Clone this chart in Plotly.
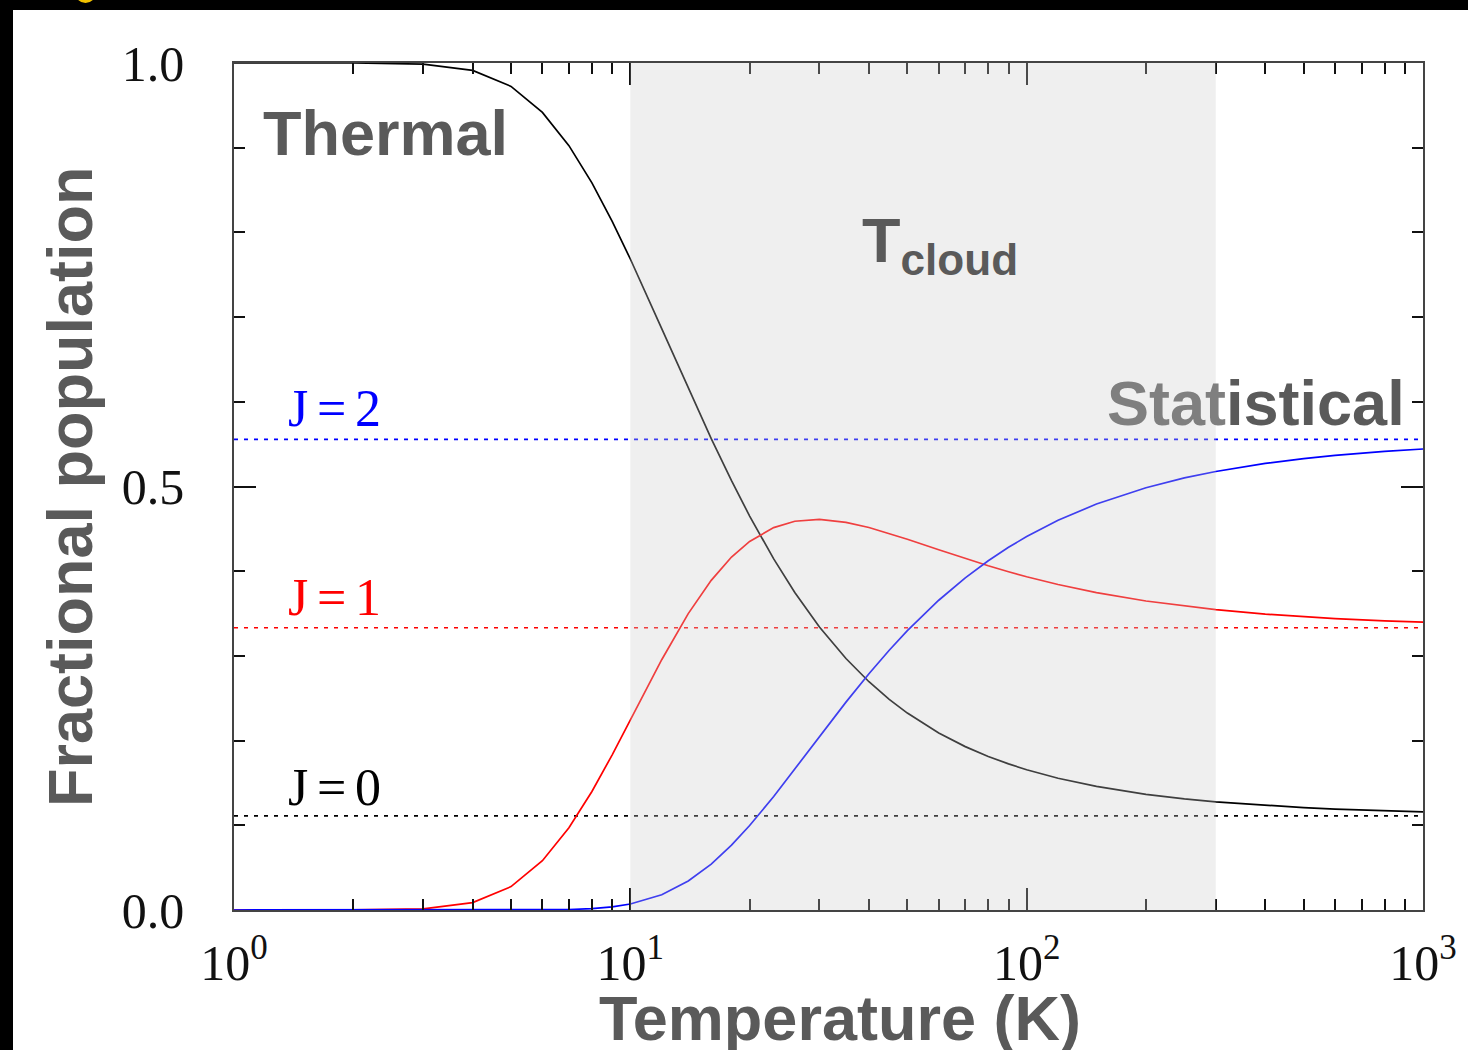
import plotly.graph_objects as go

# ---------------- data ----------------
T = [1, 2, 3, 4, 5, 6, 7, 8, 9, 10, 12, 14, 16, 18, 20, 23, 26, 30, 35, 40, 45, 50,
     60, 70, 80, 90, 100, 120, 150, 200, 250, 300, 400, 500, 600, 800, 1000]
J0 = [1.0, 1.0, 0.9987, 0.9912, 0.9724, 0.9417, 0.9024, 0.8585, 0.8131, 0.7686,
      0.6865, 0.6159, 0.5565, 0.5068, 0.4651, 0.4145, 0.3749, 0.3342, 0.2969, 0.2695,
      0.2487, 0.2325, 0.2090, 0.1929, 0.1813, 0.1725, 0.1656, 0.1556, 0.1459, 0.1366,
      0.1312, 0.1277, 0.1234, 0.1209, 0.1192, 0.1172, 0.1159]
J1 = [0.0, 0.00003, 0.0013, 0.0088, 0.0276, 0.0582, 0.0971, 0.1399, 0.1832, 0.2244,
      0.2955, 0.3499, 0.3892, 0.4167, 0.4352, 0.4515, 0.4590, 0.4611, 0.4577, 0.4516,
      0.4446, 0.4377, 0.4253, 0.4149, 0.4064, 0.3994, 0.3935, 0.3843, 0.3747, 0.3648,
      0.3587, 0.3546, 0.3493, 0.3462, 0.3441, 0.3414, 0.3398]
J2 = [0.0, 0.0, 0.0, 0.0, 0.00002, 0.00013, 0.00056, 0.0016, 0.0037, 0.0071,
      0.0180, 0.0342, 0.0542, 0.0765, 0.0997, 0.1340, 0.1662, 0.2046, 0.2454, 0.2789,
      0.3067, 0.3298, 0.3657, 0.3922, 0.4124, 0.4282, 0.4409, 0.4601, 0.4793, 0.4985,
      0.5101, 0.5177, 0.5272, 0.5329, 0.5367, 0.5414, 0.5443]
STAT = [0.1111, 0.3333, 0.5556]          # statistical limits J=0,1,2
STAT_LABELS = ["J=0", "J=1", "J=2"]
T_CLOUD = [10, 300]
X_RANGE = [1, 1000]
X_TICKS = [1, 10, 100, 1000]
X_TICKTEXT = ["10<sup>0</sup>", "10<sup>1</sup>", "10<sup>2</sup>", "10<sup>3</sup>"]
X_MINOR = [2, 3, 4, 5, 6, 7, 8, 9, 20, 30, 40, 50, 60, 70, 80, 90,
           200, 300, 400, 500, 600, 700, 800, 900]
Y_TICKS = [0.0, 0.5, 1.0]
Y_TICKTEXT = ["0.0", "0.5", "1.0"]
Y_MINOR = [0.1, 0.2, 0.3, 0.4, 0.6, 0.7, 0.8, 0.9]

COLORS = ["#000000", "#ff0000", "#0000ff"]

# ---------------- layout helpers (pixel -> paper) ----------------
L, R, TOP, BOT = 234, 1423, 63, 910
def px(p):
    return (p - L) / (R - L)
def py(p):
    return (BOT - p) / (BOT - TOP)

fig = go.Figure()

# statistical limits (dotted)
for val, col in zip(STAT, COLORS):
    fig.add_trace(go.Scatter(x=X_RANGE, y=[val, val], mode="lines",
                             line=dict(color=col, width=1.6, dash="4px,6px"),
                             showlegend=False, hoverinfo="skip"))

# thermal populations
for ys, col in zip([J0, J1, J2], COLORS):
    fig.add_trace(go.Scatter(x=T, y=ys, mode="lines",
                             line=dict(color=col, width=1.7),
                             showlegend=False))

SERIF = "Liberation Serif"
SANS = "Liberation Sans"
GREY = "#5a5a5a"

fig.update_layout(
    width=1468, height=1050,
    margin=dict(l=L, r=1468 - R, t=TOP, b=1050 - BOT, autoexpand=False),
    paper_bgcolor="white", plot_bgcolor="white",
    xaxis=dict(type="log", range=[0, 3], showgrid=False, zeroline=False,
               showline=True, linecolor="#444444", linewidth=1.6, mirror="allticks",
               ticks="inside", ticklen=22, tickwidth=1.8, tickcolor="#111111",
               tickmode="array", tickvals=X_TICKS, ticktext=X_TICKTEXT,
               tickfont=dict(family=SERIF, size=50, color="#111111"),
               ticklabelstandoff=8,
               minor=dict(tickmode="array", tickvals=X_MINOR, ticks="inside",
                          ticklen=11, tickwidth=1.6, tickcolor="#111111",
                          showgrid=False)),
    yaxis=dict(range=[0, 1], showgrid=False, zeroline=False,
               showline=True, linecolor="#444444", linewidth=1.6, mirror="allticks",
               ticks="inside", ticklen=22, tickwidth=1.8, tickcolor="#111111",
               tickmode="array", tickvals=Y_TICKS, ticktext=Y_TICKTEXT,
               tickfont=dict(family=SERIF, size=50, color="#111111"),
               ticklabelstandoff=38,
               minor=dict(tickmode="array", tickvals=Y_MINOR, ticks="inside",
                          ticklen=11, tickwidth=1.6, tickcolor="#111111",
                          showgrid=False)),
)

shapes = [
    # T_cloud shaded band (semi-transparent, above the curves)
    dict(type="rect", xref="x", yref="paper", x0=T_CLOUD[0], x1=T_CLOUD[1], y0=0, y1=1,
         fillcolor="rgba(204,204,204,0.31)", line=dict(width=0), layer="above"),
    # black frame at the image edges
    dict(type="rect", xref="paper", yref="paper", x0=px(-5), x1=px(13), y0=py(1060), y1=py(-5),
         fillcolor="black", line=dict(width=0), layer="above"),
    dict(type="rect", xref="paper", yref="paper", x0=px(-5), x1=px(1475), y0=py(10), y1=py(-5),
         fillcolor="black", line=dict(width=0), layer="above"),
    dict(type="circle", xref="paper", yref="paper", x0=px(75), x1=px(96), y0=py(3), y1=py(-18),
         fillcolor="#f2c200", line=dict(width=0), layer="above"),
]
fig.update_layout(shapes=shapes)

ann = []
# axis titles
ann.append(dict(text="<b>Fractional population</b>", xref="paper", yref="paper",
                x=px(70), y=py(487), xanchor="center", yanchor="middle", textangle=-90,
                showarrow=False, font=dict(family=SANS, size=63, color=GREY)))
ann.append(dict(text="<b>Temperature (K)</b>", xref="paper", yref="paper",
                x=px(840), y=py(1018), xanchor="center", yanchor="middle",
                showarrow=False, font=dict(family=SANS, size=63, color=GREY)))
# region labels
ann.append(dict(text="<b>Thermal</b>", xref="paper", yref="paper",
                x=px(385), y=py(133), xanchor="center", yanchor="middle",
                showarrow=False, font=dict(family=SANS, size=63, color=GREY)))
ann.append(dict(text="<b><span style='color:#7f7f7f'>Stat</span>istical</b>", xref="paper", yref="paper",
                x=px(1256), y=py(403), xanchor="center", yanchor="middle",
                showarrow=False, font=dict(family=SANS, size=63, color=GREY)))
ann.append(dict(text="<b>T<sub>cloud</sub></b>", xref="paper", yref="paper",
                x=px(940), y=py(245), xanchor="center", yanchor="middle",
                showarrow=False, font=dict(family=SANS, size=63, color=GREY)))
# J labels
for val, lab, col, ypix in zip(STAT, STAT_LABELS, COLORS, [787, 597, 408]):
    ann.append(dict(text=lab.replace("=", "\u2006=\u2006"), xref="paper", yref="paper",
                    x=px(334), y=py(ypix), xanchor="center", yanchor="middle",
                    showarrow=False, font=dict(family=SERIF, size=52, color=col)))
fig.update_layout(annotations=ann)

fig.write_html("out.html", config={"displayModeBar": False},
               post_script="document.body.style.margin='0px';")
